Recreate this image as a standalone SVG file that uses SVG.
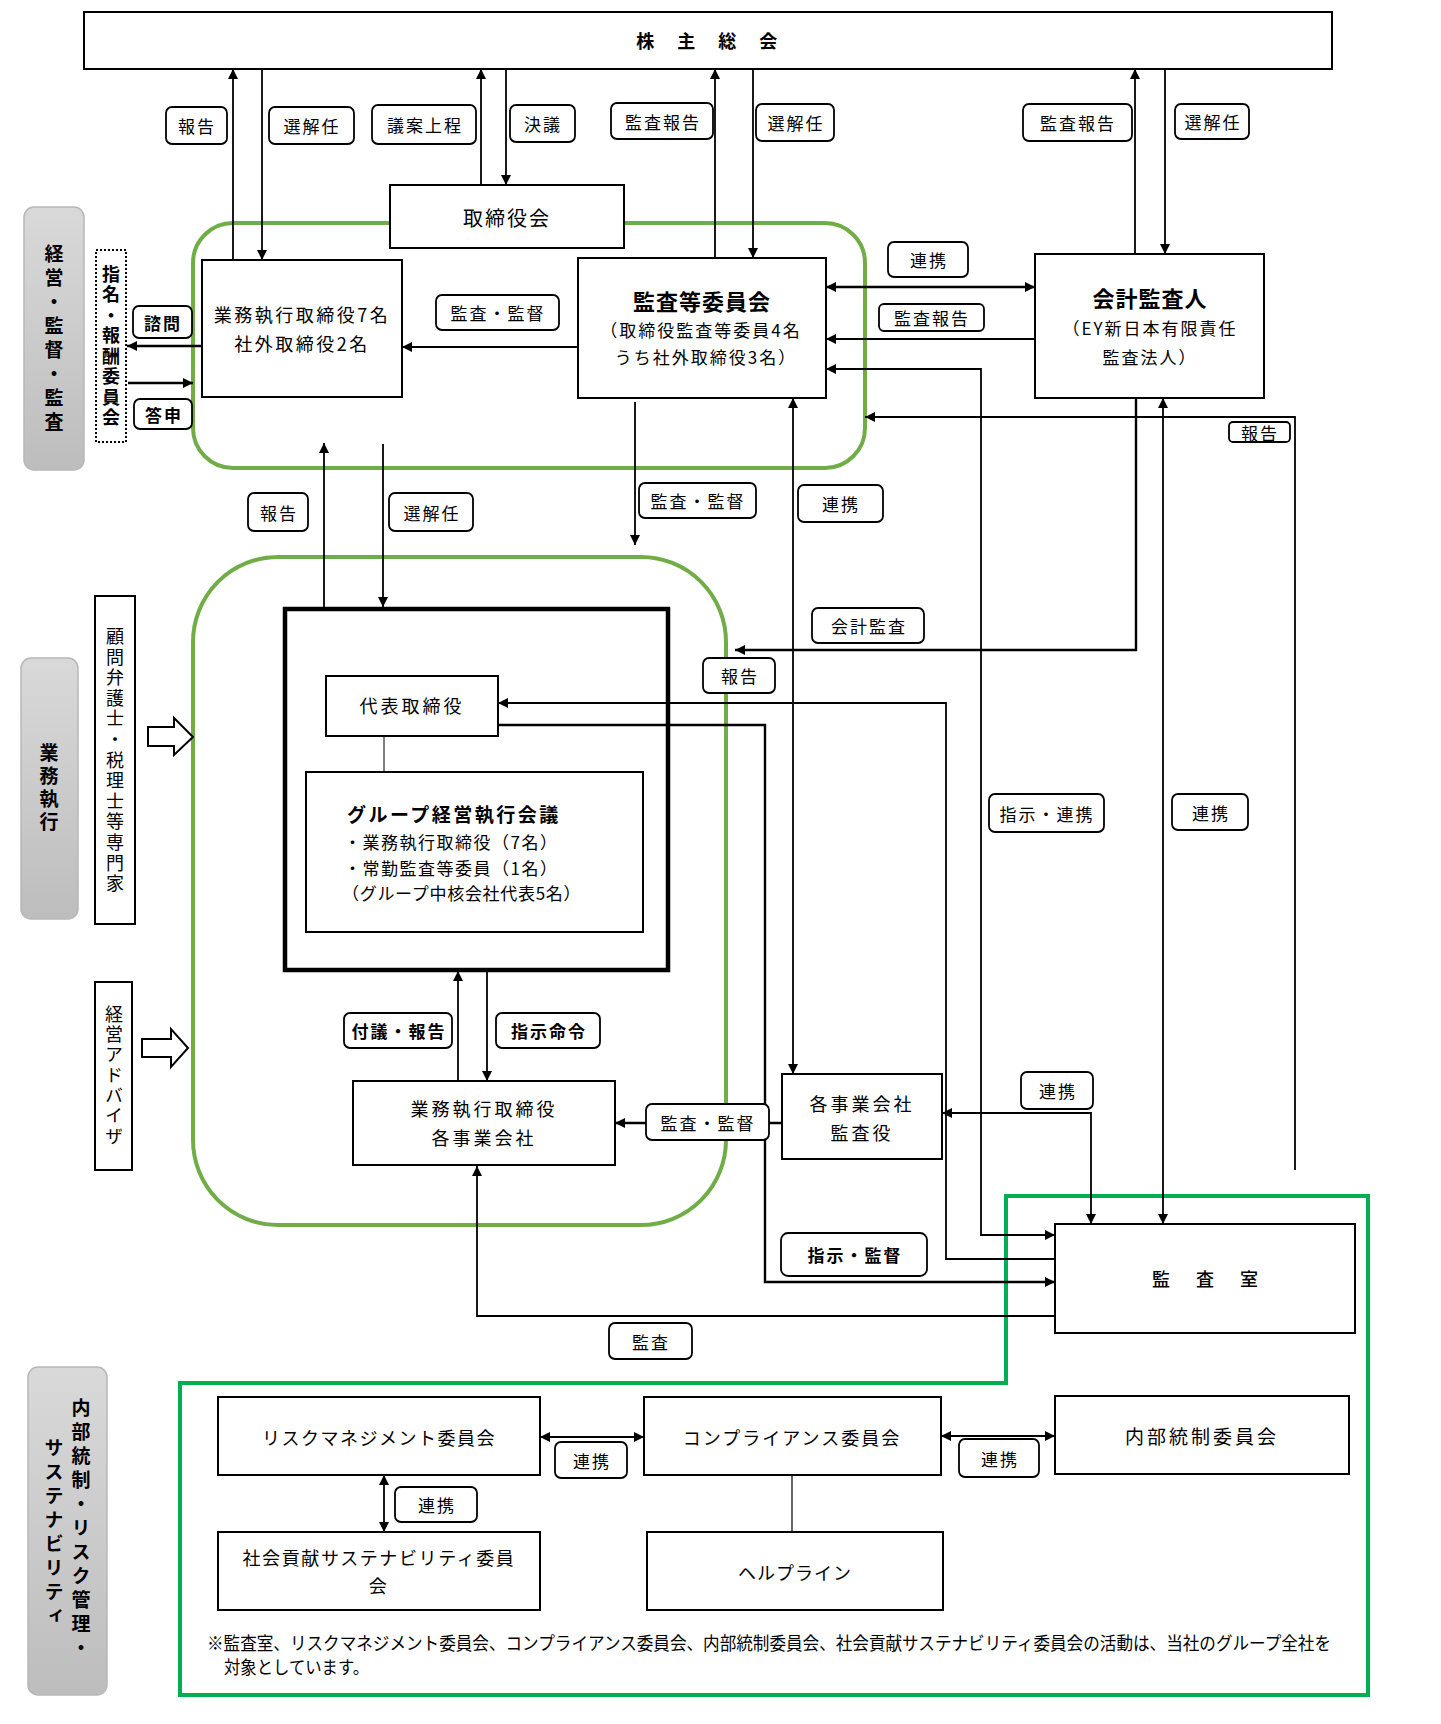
<svg xmlns="http://www.w3.org/2000/svg" width="1441" height="1724" viewBox="0 0 1441 1724">
<defs>
<style>
text{font-family:"Noto Sans CJK JP","Noto Sans",sans-serif;fill:#000}
.box{fill:#fff;stroke:#000;stroke-width:2}
.c{fill:none;stroke:#000;stroke-width:1.8}
.ct{fill:none;stroke:#000;stroke-width:2.4}
.lbl rect{fill:#fff;stroke:#000;stroke-width:1.8}
.lbl text{font-size:17px;letter-spacing:2px;text-anchor:middle;dominant-baseline:central}
.lbl .b{font-weight:700}
.m{text-anchor:middle;dominant-baseline:central;font-size:18px;letter-spacing:2.5px}
.v{writing-mode:vertical-rl;text-anchor:middle}
.gray{fill:url(#gg);stroke:#b8b8b8;stroke-width:1.5}
</style>
<linearGradient id="gg" x1="0" y1="0" x2="0" y2="1">
<stop offset="0" stop-color="#d9d9d9"/>
<stop offset="1" stop-color="#bdbdbd"/>
</linearGradient>
<marker id="ah" viewBox="0 0 10 10" refX="10" refY="5" markerWidth="11" markerHeight="10" markerUnits="userSpaceOnUse" orient="auto-start-reverse">
<path d="M0,0 L10,5 L0,10 z" fill="#000"/>
</marker>
</defs>
<rect width="1441" height="1724" fill="#fff"/>

<g id="frames">
<rect x="193" y="223" width="672" height="245" rx="40" fill="none" stroke="#70AD47" stroke-width="4"/>
<rect x="193" y="557" width="533" height="668" rx="85" fill="none" stroke="#70AD47" stroke-width="4"/>
<path d="M1006,1196 H1368 V1695 H180 V1383 H1006 Z" fill="none" stroke="#00B050" stroke-width="4"/>
</g>

<g id="side-labels">
<g id="lbl-keiei"><rect class="gray" x="24" y="207" width="60" height="263" rx="10"/><text class="v" x="54" y="340" font-size="19" font-weight="700" letter-spacing="5">経営・監督・監査</text></g>
<g id="lbl-gyomu"><rect class="gray" x="21" y="658" width="57" height="261" rx="10"/><text class="v" x="49" y="789" font-size="19" font-weight="700" letter-spacing="4">業務執行</text></g>
<g id="lbl-naibu"><rect class="gray" x="28" y="1367" width="79" height="328" rx="10"/><text class="v" x="81" y="1530" font-size="19" font-weight="700" letter-spacing="5">内部統制・リスク管理・</text><text class="v" x="54" y="1534" font-size="19" font-weight="700" letter-spacing="5">サステナビリティ</text></g>
</g>

<g id="nodes">
<g id="n-kabunushi"><rect class="box" x="84" y="12" width="1248" height="57"/><text class="m" x="708" y="40" font-size="20" font-weight="700" letter-spacing="0">株　主　総　会</text></g>
<g id="n-torishimariyakukai"><rect class="box" x="390" y="185" width="234" height="63"/><text class="m" x="507" y="217" style="font-size:20px;letter-spacing:2px">取締役会</text></g>
<g id="n-exec-directors"><rect class="box" x="202" y="260" width="200" height="137"/><text class="m" x="302" y="314">業務執行取締役7名</text><text class="m" x="302" y="343">社外取締役2名</text></g>
<g id="n-nomination"><rect x="96" y="250" width="30" height="192" fill="#fff" stroke="#000" stroke-width="2" stroke-dasharray="2,2"/><text class="v" x="111" y="347" font-size="18" font-weight="700" letter-spacing="2.5">指名・報酬委員会</text></g>
<g id="n-audit-committee"><rect class="box" x="578" y="258" width="248" height="140"/><text class="m" x="702" y="300" style="font-size:22px;font-weight:700;letter-spacing:1px">監査等委員会</text><text class="m" x="701" y="329" style="font-size:17px;letter-spacing:2px">（取締役監査等委員4名</text><text class="m" x="706" y="356" style="font-size:17px;letter-spacing:2px">うち社外取締役3名）</text></g>
<g id="n-accounting-auditor"><rect class="box" x="1035" y="254" width="229" height="144"/><text class="m" x="1150" y="297" style="font-size:22px;font-weight:700;letter-spacing:1px">会計監査人</text><text class="m" x="1150" y="327" style="font-size:17px;letter-spacing:2px">（EY新日本有限責任</text><text class="m" x="1150" y="356" style="font-size:17px;letter-spacing:2px">監査法人）</text></g>
<g id="n-exec-block"><rect x="285" y="609" width="383" height="361" fill="#fff" stroke="#000" stroke-width="4.5"/></g>
<g id="n-ceo"><rect class="box" x="326" y="676" width="172" height="60"/><text class="m" x="412" y="705" style="letter-spacing:3px">代表取締役</text></g>
<g id="n-group-meeting"><rect class="box" x="306" y="772" width="337" height="160"/><text x="347" y="813" font-size="19" font-weight="700" letter-spacing="2.5" dominant-baseline="central">グループ経営執行会議</text><text x="344" y="841" font-size="17" letter-spacing="1.5" dominant-baseline="central">・業務執行取締役（7名）</text><text x="344" y="867" font-size="17" letter-spacing="1.5" dominant-baseline="central">・常勤監査等委員（1名）</text><text x="342" y="892" font-size="17" letter-spacing="0.7" dominant-baseline="central">（グループ中核会社代表5名）</text></g>
<g id="n-advisors"><rect class="box" x="95" y="596" width="40" height="328"/><text class="v" x="115" y="761" font-size="18" letter-spacing="2.6">顧問弁護士・税理士等専門家</text></g>
<g id="n-mgmt-advisor"><rect class="box" x="95" y="982" width="37" height="188"/><text class="v" x="114" y="1076" font-size="18" letter-spacing="2.3">経営アドバイザ</text></g>
<g id="n-subsidiary-exec"><rect class="box" x="353" y="1081" width="262" height="84"/><text class="m" x="484" y="1108" style="letter-spacing:3px">業務執行取締役</text><text class="m" x="484" y="1137" style="letter-spacing:3px">各事業会社</text></g>
<g id="n-subsidiary-auditor"><rect class="box" x="782" y="1074" width="160" height="85"/><text class="m" x="862" y="1103" style="letter-spacing:3px">各事業会社</text><text class="m" x="862" y="1132" style="letter-spacing:3px">監査役</text></g>
<g id="n-audit-office"><rect class="box" x="1055" y="1224" width="300" height="109"/><text class="m" x="1207" y="1278" style="letter-spacing:4px;font-weight:500">監　査　室</text></g>
<g id="n-risk"><rect class="box" x="218" y="1397" width="322" height="78"/><text class="m" x="379" y="1437" style="letter-spacing:1.5px">リスクマネジメント委員会</text></g>
<g id="n-compliance"><rect class="box" x="644" y="1397" width="297" height="78"/><text class="m" x="792" y="1437" style="letter-spacing:2px">コンプライアンス委員会</text></g>
<g id="n-internal-control"><rect class="box" x="1055" y="1396" width="294" height="78"/><text class="m" x="1202" y="1435" style="font-size:19px;letter-spacing:3px">内部統制委員会</text></g>
<g id="n-sustainability"><rect class="box" x="218" y="1532" width="322" height="78"/><text class="m" x="379" y="1557" style="letter-spacing:1.6px">社会貢献サステナビリティ委員</text><text class="m" x="379" y="1585">会</text></g>
<g id="n-helpline"><rect class="box" x="647" y="1532" width="296" height="78"/><text class="m" x="795" y="1572" style="letter-spacing:1px">ヘルプライン</text></g>
</g>

<g id="hollow-arrows">
<path d="M148,727 H174 V718 L193,737 L174,755 V746 H148 Z" fill="#fff" stroke="#000" stroke-width="2"/>
<path d="M142,1039 H171 V1029 L188,1048 L171,1067 V1057 H142 Z" fill="#fff" stroke="#000" stroke-width="2"/>
</g>

<g id="connectors">
<path class="c" d="M233,260 V69" marker-end="url(#ah)"/>
<path class="c" d="M262,69 V260" marker-end="url(#ah)"/>
<path class="c" d="M481,185 V69" marker-end="url(#ah)"/>
<path class="c" d="M506,69 V185" marker-end="url(#ah)"/>
<path class="c" d="M715,258 V69" marker-end="url(#ah)"/>
<path class="c" d="M753,69 V258" marker-end="url(#ah)"/>
<path class="c" d="M1135,254 V69" marker-end="url(#ah)"/>
<path class="c" d="M1165,69 V254" marker-end="url(#ah)"/>
<path class="c" d="M578,347 H402" marker-end="url(#ah)"/>
<path class="ct" d="M202,346 H127" marker-end="url(#ah)"/>
<path class="ct" d="M128,383 H193" marker-end="url(#ah)"/>
<path class="ct" d="M826,287 H1035" marker-start="url(#ah)" marker-end="url(#ah)"/>
<path class="c" d="M1035,339 H826" marker-end="url(#ah)"/>
<path class="c" d="M1055,1235 H981 V369 H826" marker-start="url(#ah)" marker-end="url(#ah)"/>
<path class="c" d="M1295,1170 V417 H865" marker-end="url(#ah)"/>
<path class="ct" d="M1136,398 V650 H735" marker-end="url(#ah)"/>
<path class="c" d="M1163,398 V1224" marker-start="url(#ah)" marker-end="url(#ah)"/>
<path class="c" d="M793,398 V1074" marker-start="url(#ah)" marker-end="url(#ah)"/>
<path class="c" d="M635,402 V545" marker-end="url(#ah)"/>
<path class="c" d="M324,607 V443" marker-end="url(#ah)"/>
<path class="c" d="M383,444 V607" marker-end="url(#ah)"/>
<path class="c" d="M1055,1259 H946 V703 H498" marker-end="url(#ah)"/>
<path class="ct" d="M498,725 H765 V1282 H1055" marker-end="url(#ah)"/>
<path d="M384,736 V772" fill="none" stroke="#000" stroke-width="1"/>
<path class="c" d="M458,1081 V971" marker-end="url(#ah)"/>
<path class="c" d="M487,971 V1081" marker-end="url(#ah)"/>
<path class="ct" d="M782,1123 H615" marker-end="url(#ah)"/>
<path class="c" d="M1091,1224 V1113 H942" marker-start="url(#ah)" marker-end="url(#ah)"/>
<path class="c" d="M1055,1316 H477 V1166" marker-end="url(#ah)"/>
<path class="c" d="M540,1437 H644" marker-start="url(#ah)" marker-end="url(#ah)"/>
<path class="c" d="M941,1436 H1055" marker-start="url(#ah)" marker-end="url(#ah)"/>
<path class="c" d="M384,1475 V1532" marker-start="url(#ah)" marker-end="url(#ah)"/>
<path d="M792,1475 V1532" fill="none" stroke="#000" stroke-width="1.2"/>
</g>

<g id="labels">
<g class="lbl"><rect x="166" y="107" width="61" height="37" rx="6"/><text x="197" y="125">報告</text></g>
<g class="lbl"><rect x="269" y="107" width="85" height="37" rx="6"/><text x="312" y="125">選解任</text></g>
<g class="lbl"><rect x="372" y="105" width="104" height="39" rx="6"/><text x="425" y="124">議案上程</text></g>
<g class="lbl"><rect x="510" y="105" width="65" height="37" rx="6"/><text x="543" y="123">決議</text></g>
<g class="lbl"><rect x="611" y="103" width="102" height="36" rx="6"/><text x="663" y="121">監査報告</text></g>
<g class="lbl"><rect x="756" y="104" width="78" height="37" rx="6"/><text x="796" y="122">選解任</text></g>
<g class="lbl"><rect x="1023" y="104" width="109" height="37" rx="6"/><text x="1078" y="122">監査報告</text></g>
<g class="lbl"><rect x="1175" y="104" width="74" height="35" rx="6"/><text x="1213" y="121">選解任</text></g>
<g class="lbl"><rect x="888" y="242" width="80" height="35" rx="6"/><text x="929" y="259">連携</text></g>
<g class="lbl"><rect x="879" y="304" width="105" height="27" rx="5"/><text x="932" y="317">監査報告</text></g>
<g class="lbl"><rect x="436" y="295" width="123" height="35" rx="6"/><text x="498" y="312">監査・監督</text></g>
<g class="lbl"><rect x="133" y="306" width="59" height="32" rx="6"/><text class="b" x="163" y="322">諮問</text></g>
<g class="lbl"><rect x="134" y="399" width="58" height="30" rx="6"/><text class="b" x="164" y="414">答申</text></g>
<g class="lbl"><rect x="1229" y="422" width="61" height="20" rx="4"/><text x="1260" y="432">報告</text></g>
<g class="lbl"><rect x="248" y="493" width="60" height="38" rx="6"/><text x="279" y="512">報告</text></g>
<g class="lbl"><rect x="389" y="493" width="84" height="38" rx="6"/><text x="432" y="512">選解任</text></g>
<g class="lbl"><rect x="639" y="483" width="117" height="35" rx="6"/><text x="698" y="500">監査・監督</text></g>
<g class="lbl"><rect x="798" y="485" width="85" height="37" rx="6"/><text x="841" y="503">連携</text></g>
<g class="lbl"><rect x="812" y="608" width="112" height="35" rx="6"/><text x="869" y="625">会計監査</text></g>
<g class="lbl"><rect x="703" y="658" width="72" height="35" rx="6"/><text x="740" y="675">報告</text></g>
<g class="lbl"><rect x="989" y="794" width="115" height="38" rx="6"/><text x="1047" y="813">指示・連携</text></g>
<g class="lbl"><rect x="1172" y="794" width="76" height="36" rx="6"/><text x="1211" y="812">連携</text></g>
<g class="lbl"><rect x="344" y="1013" width="108" height="35" rx="6"/><text class="b" x="399" y="1030">付議・報告</text></g>
<g class="lbl"><rect x="496" y="1013" width="104" height="35" rx="6"/><text class="b" x="549" y="1030">指示命令</text></g>
<g class="lbl"><rect x="646" y="1104" width="123" height="36" rx="6"/><text x="708" y="1122">監査・監督</text></g>
<g class="lbl"><rect x="1021" y="1072" width="72" height="37" rx="6"/><text x="1058" y="1090">連携</text></g>
<g class="lbl"><rect x="781" y="1233" width="146" height="43" rx="7"/><text class="b" x="855" y="1254">指示・監督</text></g>
<g class="lbl"><rect x="609" y="1323" width="83" height="36" rx="6"/><text x="651" y="1341">監査</text></g>
<g class="lbl"><rect x="555" y="1442" width="72" height="36" rx="6"/><text x="592" y="1460">連携</text></g>
<g class="lbl"><rect x="395" y="1487" width="82" height="35" rx="6"/><text x="437" y="1504">連携</text></g>
<g class="lbl"><rect x="959" y="1439" width="80" height="38" rx="6"/><text x="1000" y="1458">連携</text></g>
</g>

<g id="footnote">
<text x="207" y="1642" font-size="18" dominant-baseline="central" textLength="1124" lengthAdjust="spacingAndGlyphs">※監査室、リスクマネジメント委員会、コンプライアンス委員会、内部統制委員会、社会貢献サステナビリティ委員会の活動は、当社のグループ全社を</text>
<text x="224" y="1666" font-size="18" dominant-baseline="central" textLength="145" lengthAdjust="spacingAndGlyphs">対象としています。</text>
</g>
</svg>
